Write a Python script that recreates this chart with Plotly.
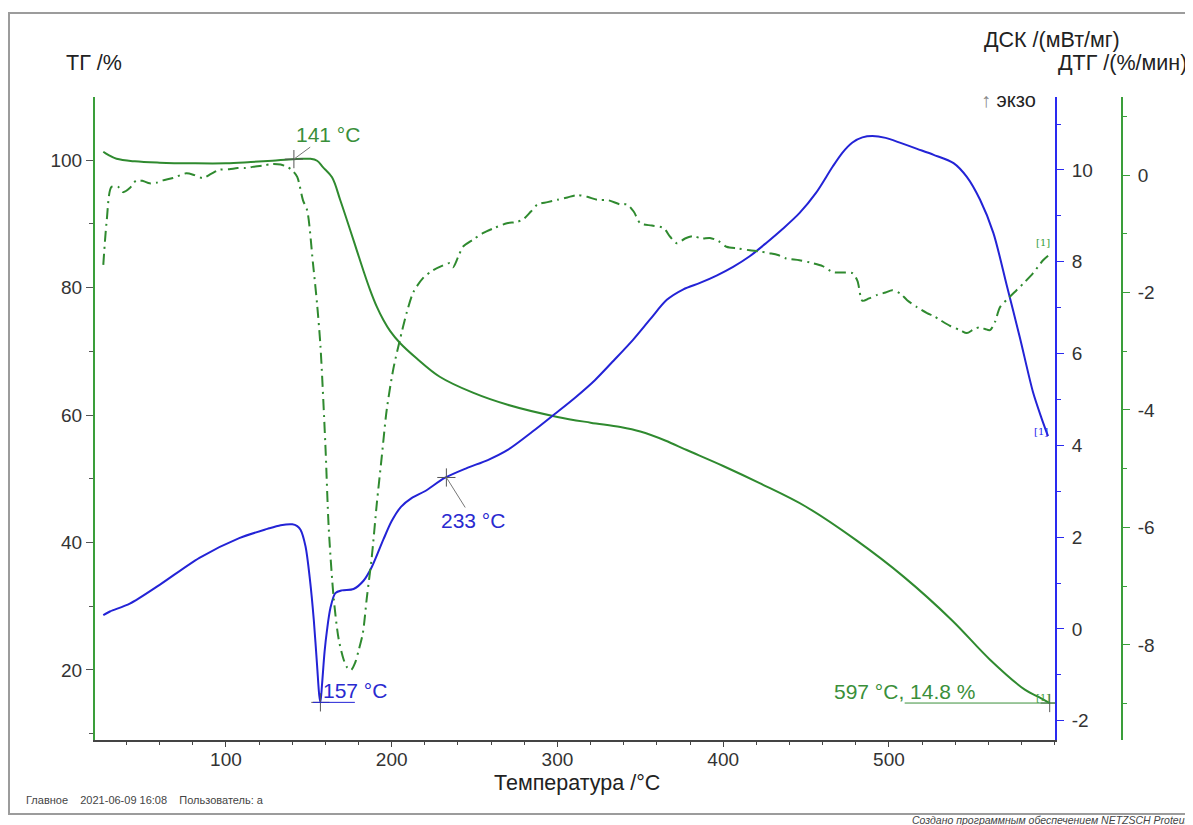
import plotly.graph_objects as go

# ---------------- data ----------------
T_tg = [26, 29, 34, 45, 60, 80, 100, 115, 128, 138, 146, 151, 155, 158.5, 164, 169, 175, 179,
        183, 187, 191, 195, 199, 205, 215, 229, 249, 270, 300, 320, 338, 350, 365, 378, 400, 422,
        450, 480, 509, 538, 561, 582, 590, 597]
TG = [101.3, 100.8, 100.2, 99.8, 99.6, 99.5, 99.5, 99.7, 99.9, 100.1, 100.2, 100.2, 99.9, 98.9,
      97.3, 93.7, 89.0, 85.8, 82.6, 79.6, 77.0, 74.9, 73.2, 71.3, 68.9, 66.0, 63.5, 61.6, 59.7,
      58.8, 58.1, 57.4, 56.0, 54.5, 52.0, 49.3, 45.6, 40.4, 34.6, 27.8, 21.6, 16.9, 15.8, 14.8]

T_dsc = [26, 30, 42, 60, 84, 108, 125, 133, 140, 143, 145, 148, 150.7, 153, 155, 156.3, 157, 158,
         159.5, 161, 163, 166, 170, 177, 183, 188, 195, 200, 205.6, 212, 220, 232, 245, 258, 270,
         285, 299, 311, 322.6, 334, 345.6, 356, 366, 376, 386, 396, 406, 416, 426, 436, 446, 456,
         466, 472, 478, 484, 490, 498, 507, 517, 527, 539, 547, 555, 563, 571, 579, 587, 592, 596]
DSC = [0.30, 0.38, 0.55, 0.96, 1.55, 1.98, 2.18, 2.26, 2.28, 2.24, 2.16, 1.8, 1.07, 0.2, -0.8,
       -1.45, -1.6, -1.2, -0.5, -0.02, 0.45, 0.78, 0.84, 0.87, 1.05, 1.35, 1.95, 2.35, 2.66, 2.85,
       3.0, 3.29, 3.5, 3.68, 3.9, 4.3, 4.7, 5.05, 5.42, 5.85, 6.3, 6.75, 7.17, 7.4, 7.54, 7.7,
       7.89, 8.12, 8.41, 8.72, 9.06, 9.5, 10.07, 10.38, 10.6, 10.71, 10.74, 10.7, 10.59, 10.46,
       10.33, 10.15, 9.85, 9.35, 8.63, 7.5, 6.35, 5.15, 4.6, 4.2]

T_dtg = [26, 28, 31, 35, 38, 42, 46, 50, 54, 58, 62, 68, 76, 81, 86, 91, 96, 102, 107, 112, 116,
         122, 128, 133, 137, 140, 143, 146.5, 149, 152.5, 155, 157, 160, 162, 165, 168, 171, 173,
         175.4, 178, 180, 182.6, 185, 188, 191, 194, 197, 201, 205, 209, 213, 219, 225, 230, 235,
         237, 240, 243, 249, 255, 262, 269.5, 275, 279, 284, 288, 294, 300, 306, 312, 318, 324,
         331, 338, 342, 346, 350, 357, 364, 368, 372, 377, 382, 387, 392, 397, 402, 409, 416, 422,
         428, 433, 438, 446, 454, 460, 466, 472, 478, 481, 484, 488, 493, 498, 502, 507, 511, 517,
         523, 527, 531, 537, 543, 547, 551, 555, 558, 561, 564, 567, 572, 577, 582, 587, 593, 597]
DTG = [-1.53, -0.8, -0.2, -0.2, -0.29, -0.22, -0.09, -0.1, -0.14, -0.13, -0.09, -0.05, 0.03, 0.0,
       -0.05, 0.02, 0.09, 0.1, 0.12, 0.12, 0.14, 0.16, 0.19, 0.18, 0.14, 0.08, -0.03, -0.43, -0.6,
       -1.5, -2.2, -2.9, -4.6, -6.0, -7.2, -7.9, -8.25, -8.38, -8.43, -8.3, -8.1, -7.8, -7.2,
       -6.5, -5.6, -4.8, -4.0, -3.3, -2.8, -2.35, -2.0, -1.75, -1.62, -1.55, -1.5, -1.57, -1.4,
       -1.22, -1.1, -0.99, -0.9, -0.82, -0.8, -0.76, -0.62, -0.5, -0.46, -0.42, -0.38, -0.34,
       -0.37, -0.42, -0.43, -0.5, -0.5, -0.62, -0.82, -0.86, -0.9, -1.05, -1.16, -1.08, -1.04,
       -1.08, -1.07, -1.12, -1.22, -1.25, -1.28, -1.3, -1.33, -1.36, -1.42, -1.45, -1.5, -1.55,
       -1.65, -1.66, -1.67, -1.8, -2.14, -2.1, -2.04, -2.0, -1.96, -2.02, -2.13, -2.25, -2.35,
       -2.4, -2.47, -2.57, -2.64, -2.69, -2.63, -2.59, -2.62, -2.64, -2.5, -2.25, -2.1, -1.96,
       -1.82, -1.67, -1.45, -1.35]

# marked points
TG_marks_T = [141, 597]
TG_marks_V = [100.15, 14.8]
DSC_marks_T = [157, 233]
DSC_marks_V = [-1.6, 3.3]

x_ticks = [100, 200, 300, 400, 500]
tg_ticks = [20, 40, 60, 80, 100]
dsc_ticks = [-2, 0, 2, 4, 6, 8, 10]
dsc_ticktext = ["-2", "0", "2", "4", "6", "8", "10"]
dtg_ticks = [-8, -6, -4, -2, 0]
dtg_ticktext = ["-8", "-6", "-4", "-2", "0"]

# ---------------- styling ----------------
GREEN = "#2f8a2f"
GREEN_AX = "#3a9e3a"
BLUE = "#2323d6"
BLUE_AX = "#2a2af0"
TXT = "#333333"
FONT = "Liberation Sans, Arial, sans-serif"

OFF = 8                     # page body margin of the html page
W, H = 1193 - OFF, 825 - OFF
ML, MR, MT = 95 - OFF, 71, 97 - OFF
MB = H - (740 - OFF)
PW = W - ML - MR            # 1027
PH = H - MT - MB            # 643
PLOT_RIGHT = 1055 - OFF     # px of the blue axis (figure coords)


def px(xp):                 # screenshot px -> paper x
    return (xp - OFF - ML) / PW


def py(yp):                 # screenshot px -> paper y
    return (H - MB - (yp - OFF)) / PH


fig = go.Figure()

fig.add_trace(go.Scatter(x=T_tg, y=TG, mode="lines", yaxis="y",
                         line=dict(color=GREEN, width=2, shape="spline", smoothing=1.0),
                         showlegend=False, hoverinfo="skip"))
fig.add_trace(go.Scatter(x=T_dtg, y=DTG, mode="lines", yaxis="y3",
                         line=dict(color=GREEN, width=2, dash="11px,5px,2px,5px",
                                   shape="spline", smoothing=0.8),
                         showlegend=False, hoverinfo="skip"))
fig.add_trace(go.Scatter(x=T_dsc, y=DSC, mode="lines", yaxis="y2",
                         line=dict(color=BLUE, width=2, shape="spline", smoothing=0.8),
                         showlegend=False, hoverinfo="skip"))

# cross markers
fig.add_trace(go.Scatter(x=TG_marks_T, y=TG_marks_V, mode="markers", yaxis="y",
                         marker=dict(symbol="cross-thin", size=13, line=dict(width=1, color="#555")),
                         showlegend=False, hoverinfo="skip"))
fig.add_trace(go.Scatter(x=DSC_marks_T, y=DSC_marks_V, mode="markers", yaxis="y2",
                         marker=dict(symbol="cross-thin", size=13, line=dict(width=1, color="#555")),
                         showlegend=False, hoverinfo="skip"))

tickfont = dict(family=FONT, size=19, color=TXT)

fig.update_layout(
    width=W, height=H, autosize=False,
    margin=dict(l=ML, r=MR, t=MT, b=MB),
    paper_bgcolor="white", plot_bgcolor="white",
    font=dict(family=FONT, color=TXT),
    xaxis=dict(domain=[0, (PLOT_RIGHT - ML) / PW], range=[21, 600.2],
               showline=True, linecolor="#444", linewidth=2,
               ticks="outside", ticklen=5, tickcolor="#444", tickwidth=1,
               tickvals=x_ticks, tickfont=tickfont, ticklabelstandoff=-4,
               minor=dict(dtick=20, tick0=0, ticks="outside", ticklen=3, tickcolor="#444"),
               showgrid=False, zeroline=False),
    yaxis=dict(range=[9.0, 109.9], showline=True, linecolor=GREEN_AX, linewidth=2,
               ticks="outside", ticklen=7, tickcolor="#555", tickvals=tg_ticks,
               tickfont=tickfont,
               minor=dict(dtick=10, tick0=0, ticks="outside", ticklen=4, tickcolor="#555"),
               showgrid=False, zeroline=False),
    yaxis2=dict(range=[-2.42, 11.59], overlaying="y", side="right", anchor="x",
                showline=True, linecolor=BLUE_AX, linewidth=2,
                ticks="outside", ticklen=7, tickcolor=BLUE_AX,
                tickvals=dsc_ticks, ticktext=dsc_ticktext,
                tickfont=tickfont, ticklabelstandoff=4,
                minor=dict(dtick=1, tick0=0, ticks="outside", ticklen=4, tickcolor=BLUE_AX),
                showgrid=False, zeroline=False),
    yaxis3=dict(range=[-9.62, 1.33], overlaying="y", side="right", anchor="free", position=1.0,
                showline=True, linecolor=GREEN_AX, linewidth=2,
                ticks="outside", ticklen=7, tickcolor=GREEN_AX,
                tickvals=dtg_ticks, ticktext=dtg_ticktext,
                tickfont=tickfont, ticklabelstandoff=4,
                minor=dict(dtick=1, tick0=0, ticks="outside", ticklen=4, tickcolor=GREEN_AX),
                showgrid=False, zeroline=False),
)

ann = []
titlefont = dict(family=FONT, size=21.5, color="#222")


def paper_text(text, xp, yp, font, xanchor="center"):
    return dict(text=text, x=px(xp), y=py(yp), xref="paper", yref="paper",
                xanchor=xanchor, yanchor="middle", showarrow=False, font=font)


ann.append(paper_text("ТГ /%", 94, 63, titlefont))
ann.append(paper_text("ДСК /(мВт/мг)", 1052, 40, titlefont))
ann.append(paper_text("ДТГ /(%/мин)", 1122, 63, titlefont))
ann.append(paper_text("<span style='color:#888'>↑</span> экзо", 1008, 100,
                      dict(family=FONT, size=20, color="#222")))
ann.append(paper_text("Температура /°C", 577, 783, titlefont))
ann.append(paper_text("Главное&nbsp;&nbsp;&nbsp;&nbsp;2021-06-09 16:08&nbsp;&nbsp;&nbsp;&nbsp;Пользователь: а",
                      24, 800, dict(family=FONT, size=11, color="#444"), xanchor="left"))
ann.append(paper_text("<i>Создано программным обеспечением NETZSCH Proteus</i>",
                      910, 820, dict(family=FONT, size=10.5, color="#444"), xanchor="left"))

annfont_g = dict(family=FONT, size=21, color="#3a8f3a")
annfont_b = dict(family=FONT, size=21, color="#2a2ad0")
# 141 °C
ann.append(dict(text="141 °C", x=TG_marks_T[0], y=TG_marks_V[0], xref="x", yref="y",
                showarrow=True, arrowhead=0, arrowwidth=1, arrowcolor="#777",
                ax=34, ay=-25, font=annfont_g))
# 233 °C
ann.append(dict(text="233 °C", x=DSC_marks_T[1], y=DSC_marks_V[1], xref="x", yref="y2",
                showarrow=True, arrowhead=0, arrowwidth=1, arrowcolor="#777",
                ax=27, ay=43, font=annfont_b))
# 157 °C
ann.append(dict(text="157 °C", x=DSC_marks_T[0] + 0.5, y=DSC_marks_V[0], xref="x", yref="y2",
                xanchor="left", yanchor="bottom", showarrow=False, font=annfont_b, yshift=-2))
# 597 °C, 14.8 %
ann.append(dict(text="597 °C, 14.8 %", x=509.5, y=TG_marks_V[1], xref="x", yref="y",
                xanchor="center", yanchor="bottom", showarrow=False, font=annfont_g, yshift=-2))
# curve end labels
smallf = dict(family="DejaVu Serif, serif", size=10)
ann.append(dict(text="[1]", x=593, y=-1.15, xref="x", yref="y3", showarrow=False,
                font=dict(smallf, color="#3a9e3a")))
ann.append(dict(text="[1]", x=591.5, y=4.3, xref="x", yref="y2", showarrow=False,
                font=dict(smallf, color=BLUE_AX)))
ann.append(dict(text="[1]", x=593, y=15.7, xref="x", yref="y", showarrow=False,
                font=dict(smallf, color="#3a9e3a")))
fig.update_layout(annotations=ann)

shapes = [
    # underline for 157 °C
    dict(type="line", xref="x", yref="y2", x0=152.5, x1=177.8, y0=DSC_marks_V[0], y1=DSC_marks_V[0],
         line=dict(color=BLUE, width=1)),
    # baseline for 597 °C
    dict(type="line", xref="x", yref="y", x0=509.5, x1=601, y0=TG_marks_V[1], y1=TG_marks_V[1],
         line=dict(color="#3a8f3a", width=1)),
    # outer frame
    dict(type="rect", xref="paper", yref="paper", x0=px(9), x1=px(1200), y0=py(814), y1=py(13),
         line=dict(color="#9c9c9c", width=2), layer="below"),
]
fig.update_layout(shapes=shapes)

fig.write_html("out.html")
